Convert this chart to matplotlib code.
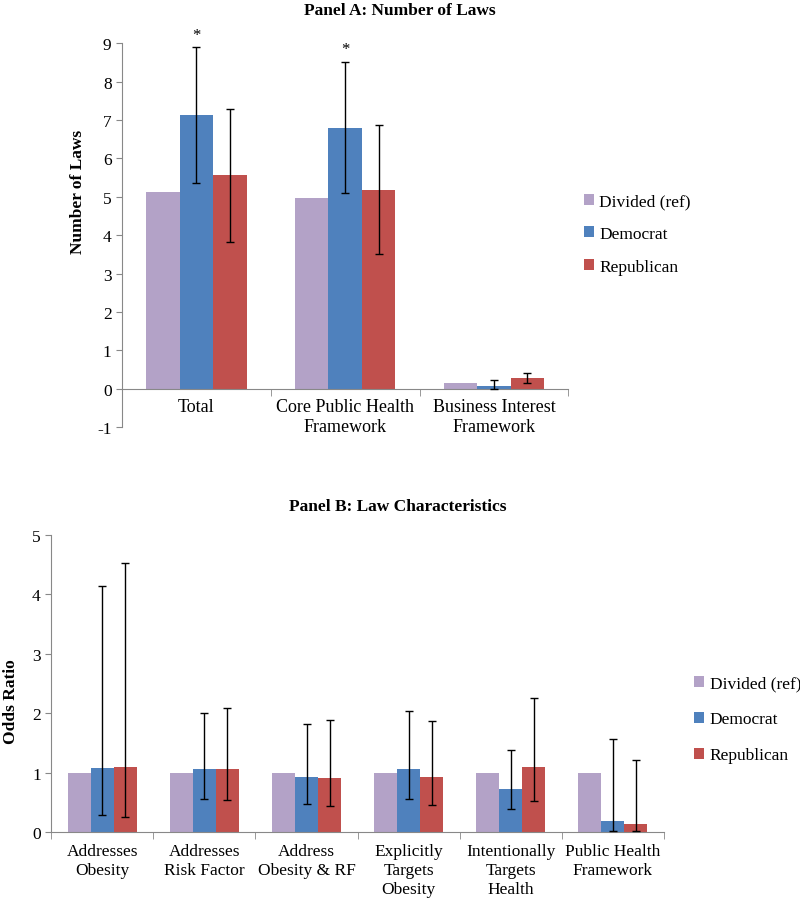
import matplotlib.pyplot as plt
import numpy as np

plt.rcParams['font.family'] = ['Liberation Serif', 'DejaVu Serif']
plt.rcParams['axes.unicode_minus'] = False

groups = ['Divided (ref)', 'Democrat', 'Republican']
colors = ['#B3A2C7', '#4F81BD', '#C0504D']

# Panel A: number of laws
cats_a = ['Total', 'Core Public Health\nFramework', 'Business Interest\nFramework']
vals_a = [
    [5.13, 4.96, 0.14],   # Divided
    [7.12, 6.80, 0.08],   # Democrat
    [5.56, 5.17, 0.27],   # Republican
]
lo_a = [None, [5.36, 5.10, 0.00], [3.82, 3.50, 0.15]]
hi_a = [None, [8.90, 8.52, 0.22], [7.28, 6.86, 0.40]]
stars_a = [0, 1]  # Democrat bars marked significant

# Panel B: odds ratios
cats_b = ['Addresses\nObesity', 'Addresses\nRisk Factor', 'Address\nObesity & RF',
          'Explicitly\nTargets\nObesity', 'Intentionally\nTargets\nHealth',
          'Public Health\nFramework']
vals_b = [
    [1, 1, 1, 1, 1, 1],
    [1.08, 1.06, 0.92, 1.06, 0.72, 0.18],
    [1.09, 1.06, 0.91, 0.93, 1.09, 0.14],
]
lo_b = [None, [0.28, 0.56, 0.47, 0.56, 0.38, 0.02], [0.26, 0.54, 0.44, 0.46, 0.53, 0.02]]
hi_b = [None, [4.15, 2.00, 1.82, 2.03, 1.38, 1.56], [4.53, 2.09, 1.88, 1.87, 2.25, 1.21]]

fig = plt.figure(figsize=(8, 9.04), dpi=100)
w = 0.225


def draw(ax, cats, vals, lo, hi, lsize, lspace, pad):
    x = np.arange(len(cats))
    for i in range(3):
        xs = x + (i - 1) * w
        ax.bar(xs, vals[i], w, color=colors[i], label=groups[i], zorder=2)
        if lo[i] is not None:
            v = np.array(vals[i])
            err = [v - np.array(lo[i]), np.array(hi[i]) - v]
            ax.errorbar(xs, v, yerr=err, fmt='none', ecolor='black',
                        elinewidth=1, capsize=3, capthick=1, zorder=3)
    ax.set_xlim(-0.5, len(cats) - 0.5)
    ax.set_xticks(x)
    ax.set_xticklabels(cats, fontsize=lsize, linespacing=lspace)
    ax.set_xticks(np.arange(len(cats) + 1) - 0.5, minor=True)
    ax.tick_params(axis='x', which='major', length=0, pad=pad, labelsize=lsize)
    ax.tick_params(axis='x', which='minor', length=5, direction='out', color='#888888')
    ax.tick_params(axis='y', length=4, direction='out', color='#888888', labelsize=12.5)
    for s in ['top', 'right']:
        ax.spines[s].set_visible(False)
    for s in ['left', 'bottom']:
        ax.spines[s].set_color('#888888')
    return x


axA = fig.add_axes([0.1525, 0.5265, 0.558, 0.4245])
xA = draw(axA, cats_a, vals_a, lo_a, hi_a, 13, 1.0, 7)
axA.set_ylim(-1, 9)
axA.set_yticks(range(-1, 10))
axA.spines['bottom'].set_position(('data', 0))
for j in stars_a:
    axA.text(xA[j], hi_a[1][j] + 0.12, '*', ha='center', va='bottom', fontsize=12)
axA.set_ylabel('Number of Laws', fontsize=12.5, fontweight='bold')
axA.yaxis.set_label_coords(-0.08, 0.615)
fig.text(0.5, 0.988, 'Panel A: Number of Laws', ha='center', va='center',
         fontsize=12.5, fontweight='bold')
axA.legend(loc='center left', bbox_to_anchor=(0.71, 0.74), bbox_transform=fig.transFigure,
           frameon=False, fontsize=12.5, handlelength=0.6, handleheight=0.6,
           handletextpad=0.3, labelspacing=0.95)

axB = fig.add_axes([0.064, 0.0785, 0.766, 0.3285])
draw(axB, cats_b, vals_b, lo_b, hi_b, 12.5, 1.25, 8)
axB.set_ylim(0, 5)
axB.set_yticks(range(0, 6))
axB.set_ylabel('Odds Ratio', fontsize=12.5, fontweight='bold')
axB.yaxis.set_label_coords(-0.053, 0.444)
fig.text(0.497, 0.439, 'Panel B: Law Characteristics', ha='center', va='center',
         fontsize=12.5, fontweight='bold')
axB.legend(loc='center left', bbox_to_anchor=(0.848, 0.203), bbox_transform=fig.transFigure,
           frameon=False, fontsize=12.5, handlelength=0.6, handleheight=0.6,
           handletextpad=0.3, labelspacing=1.15)

fig.savefig('out.png', dpi=100)
